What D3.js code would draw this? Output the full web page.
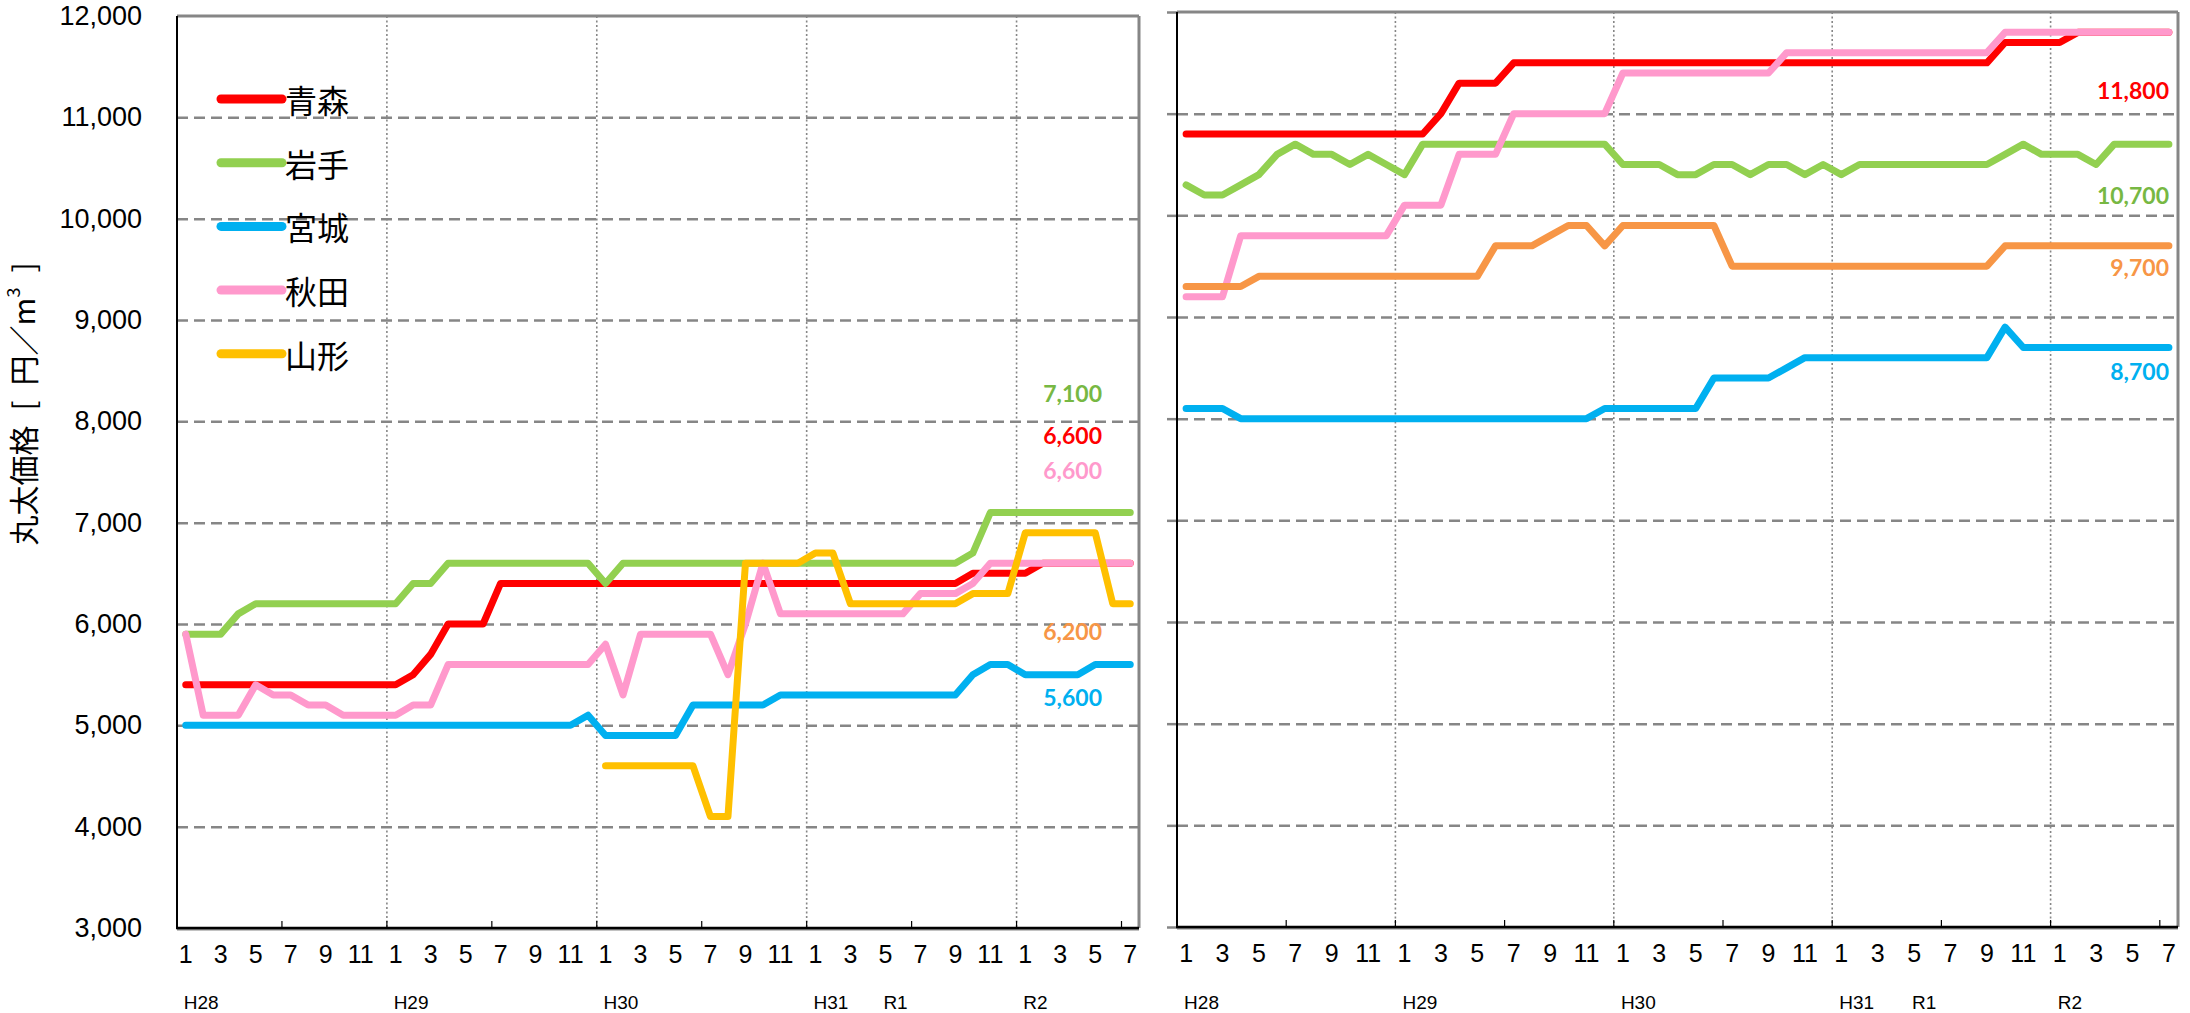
<!DOCTYPE html>
<html>
<head>
<meta charset="utf-8">
<script src="https://cdn.jsdelivr.net/npm/d3@7"></script>
<style>
  body { margin: 0; background: #fff; }
  svg { display: block; font-family: "Liberation Sans", Arial, sans-serif; }
</style>
</head>
<body>
<svg id="chart" width="2190" height="1013"></svg>
<script>
// Monthly log prices, Tohoku prefectures. Left and right panels share the same month axis.

const periods = [
  'H28.1','H28.2','H28.3','H28.4','H28.5','H28.6','H28.7','H28.8','H28.9','H28.10','H28.11','H28.12',
  'H29.1','H29.2','H29.3','H29.4','H29.5','H29.6','H29.7','H29.8','H29.9','H29.10','H29.11','H29.12',
  'H30.1','H30.2','H30.3','H30.4','H30.5','H30.6','H30.7','H30.8','H30.9','H30.10','H30.11','H30.12',
  'H31.1','H31.2','H31.3','H31.4','R1.5','R1.6','R1.7','R1.8','R1.9','R1.10','R1.11','R1.12',
  'R2.1','R2.2','R2.3','R2.4','R2.5','R2.6','R2.7'
];

const eraLabels = [
  ['H28', 'H28.1'], ['H29', 'H29.1'], ['H30', 'H30.1'],
  ['H31', 'H31.1'], ['R1', 'R1.5'], ['R2', 'R2.1']
];

const seriesNames = ['青森', '岩手', '宮城', '秋田', '山形'];
const yTicks = [3000, 4000, 5000, 6000, 7000, 8000, 9000, 10000, 11000, 12000];

// left panel
const leftAomori = [
  5400,5400,5400,5400,5400,5400,5400,5400,5400,5400,5400,5400,
  5400,5500,5700,6000,6000,6000,6400,6400,6400,6400,6400,6400,
  6400,6400,6400,6400,6400,6400,6400,6400,6400,6400,6400,6400,
  6400,6400,6400,6400,6400,6400,6400,6400,6400,6500,6500,6500,
  6500,6600,6600,6600,6600,6600,6600
];
const leftIwate = [
  5900,5900,5900,6100,6200,6200,6200,6200,6200,6200,6200,6200,
  6200,6400,6400,6600,6600,6600,6600,6600,6600,6600,6600,6600,
  6400,6600,6600,6600,6600,6600,6600,6600,6600,6600,6600,6600,
  6600,6600,6600,6600,6600,6600,6600,6600,6600,6700,7100,7100,
  7100,7100,7100,7100,7100,7100,7100
];
const leftMiyagi = [
  5000,5000,5000,5000,5000,5000,5000,5000,5000,5000,5000,5000,
  5000,5000,5000,5000,5000,5000,5000,5000,5000,5000,5000,5100,
  4900,4900,4900,4900,4900,5200,5200,5200,5200,5200,5300,5300,
  5300,5300,5300,5300,5300,5300,5300,5300,5300,5500,5600,5600,
  5500,5500,5500,5500,5600,5600,5600
];
const leftAkita = [
  5900,5100,5100,5100,5400,5300,5300,5200,5200,5100,5100,5100,
  5100,5200,5200,5600,5600,5600,5600,5600,5600,5600,5600,5600,
  5800,5300,5900,5900,5900,5900,5900,5500,6000,6600,6100,6100,
  6100,6100,6100,6100,6100,6100,6300,6300,6300,6400,6600,6600,
  6600,6600,6600,6600,6600,6600,6600
];
const leftYamagata = [
  null,null,null,null,null,null,null,null,null,null,null,null,
  null,null,null,null,null,null,null,null,null,null,null,null,
  4600,4600,4600,4600,4600,4600,4100,4100,6600,6600,6600,6600,
  6700,6700,6200,6200,6200,6200,6200,6200,6200,6300,6300,6300,
  6900,6900,6900,6900,6900,6200,6200
];

// right panel
const rightAomori = [
  10800,10800,10800,10800,10800,10800,10800,10800,10800,10800,10800,10800,
  10800,10800,11000,11300,11300,11300,11500,11500,11500,11500,11500,11500,
  11500,11500,11500,11500,11500,11500,11500,11500,11500,11500,11500,11500,
  11500,11500,11500,11500,11500,11500,11500,11500,11500,11700,11700,11700,
  11700,11800,11800,11800,11800,11800,11800
];
const rightIwate = [
  10300,10200,10200,10300,10400,10600,10700,10600,10600,10500,10600,10500,
  10400,10700,10700,10700,10700,10700,10700,10700,10700,10700,10700,10700,
  10500,10500,10500,10400,10400,10500,10500,10400,10500,10500,10400,10500,
  10400,10500,10500,10500,10500,10500,10500,10500,10500,10600,10700,10600,
  10600,10600,10500,10700,10700,10700,10700
];
const rightMiyagi = [
  8100,8100,8100,8000,8000,8000,8000,8000,8000,8000,8000,8000,
  8000,8000,8000,8000,8000,8000,8000,8000,8000,8000,8000,8100,
  8100,8100,8100,8100,8100,8400,8400,8400,8400,8500,8600,8600,
  8600,8600,8600,8600,8600,8600,8600,8600,8600,8900,8700,8700,
  8700,8700,8700,8700,8700,8700,8700
];
const rightAkita = [
  9200,9200,9200,9800,9800,9800,9800,9800,9800,9800,9800,9800,
  10100,10100,10100,10600,10600,10600,11000,11000,11000,11000,11000,11000,
  11400,11400,11400,11400,11400,11400,11400,11400,11400,11600,11600,11600,
  11600,11600,11600,11600,11600,11600,11600,11600,11600,11800,11800,11800,
  11800,11800,11800,11800,11800,11800,11800
];
const rightYamagata = [
  9300,9300,9300,9300,9400,9400,9400,9400,9400,9400,9400,9400,
  9400,9400,9400,9400,9400,9700,9700,9700,9800,9900,9900,9700,
  9900,9900,9900,9900,9900,9900,9500,9500,9500,9500,9500,9500,
  9500,9500,9500,9500,9500,9500,9500,9500,9500,9700,9700,9700,
  9700,9700,9700,9700,9700,9700,9700
];

const lineColors = ['#FF0000', '#92D050', '#00B0F0', '#FF99CC', '#FFC000'];
const rightLineColors = ['#FF0000', '#92D050', '#00B0F0', '#FF99CC', '#F79646'];
const labelColors = ['#FF0000', '#77B843', '#00B0F0', '#FF99CC', '#F79646'];

const svg = d3.select('#chart');
const gridColor = '#868686';
const fmt = d3.format(',');

const panels = [
  {
    x0: 177, x1: 1139, y0: 16, y1: 928,
    series: [leftAomori, leftIwate, leftMiyagi, leftAkita, leftYamagata],
    colors: lineColors,
    yLabels: true,
    labelRight: 1102,
    // value-axis position of each end label (null = no label)
    labelAt: [7865, 8280, 5280, 7520, 5930]
  },
  {
    x0: 1177, x1: 2178, y0: 12, y1: 927,
    series: [rightAomori, rightIwate, rightMiyagi, rightAkita, rightYamagata],
    colors: rightLineColors,
    yLabels: false,
    labelRight: 2169,
    labelAt: [11230, 10200, 8470, null, 9490]
  }
];

function drawPanel(p) {
  const x = d3.scaleBand().domain(periods).range([p.x0, p.x1]);
  const y = d3.scaleLinear().domain([3000, 12000]).range([p.y1, p.y0]);
  const g = svg.append('g');
  const w = p.x1 - p.x0;

  // horizontal dashed grid
  g.append('g').attr('transform', `translate(${p.x0},0)`)
    .call(d3.axisLeft(y).tickValues(yTicks.slice(1, -1)).tickSize(-w).tickFormat(''))
    .call(a => a.select('.domain').remove())
    .call(a => a.selectAll('line').attr('stroke', gridColor).attr('stroke-width', 2.5).attr('stroke-dasharray', '11 6'));

  // dotted year separators
  const yearStarts = periods.filter((d, i) => i > 0 && d.endsWith('.1'));
  g.append('g').selectAll('line').data(yearStarts).join('line')
    .attr('x1', d => x(d)).attr('x2', d => x(d))
    .attr('y1', p.y0).attr('y2', p.y1)
    .attr('stroke', gridColor).attr('stroke-width', 1.6).attr('stroke-dasharray', '2 2.5');

  // outside ticks on the right panel value axis
  if (!p.yLabels) {
    g.append('g').attr('transform', `translate(${p.x0},0)`)
      .call(d3.axisLeft(y).tickValues(yTicks).tickSize(10).tickFormat(''))
      .call(a => a.select('.domain').remove())
      .call(a => a.selectAll('line').attr('stroke', gridColor).attr('stroke-width', 2.5));
  }

  // frame: gray top/right, black left/bottom
  g.append('line').attr('x1', p.x0).attr('x2', p.x1).attr('y1', p.y0).attr('y2', p.y0)
    .attr('stroke', gridColor).attr('stroke-width', 3);
  g.append('line').attr('x1', p.x1).attr('x2', p.x1).attr('y1', p.y0).attr('y2', p.y1)
    .attr('stroke', gridColor).attr('stroke-width', 3);
  g.append('line').attr('x1', p.x0).attr('x2', p.x0).attr('y1', p.y0).attr('y2', p.y1)
    .attr('stroke', '#000').attr('stroke-width', 2);

  // category ticks every six months, pointing up
  const tickCats = periods.filter((d, i) => i > 0 && i % 6 === 0);
  g.append('g').selectAll('line').data(tickCats).join('line')
    .attr('x1', d => x(d)).attr('x2', d => x(d))
    .attr('y1', p.y1).attr('y2', p.y1 - 7)
    .attr('stroke', '#000').attr('stroke-width', 1.2);
  g.append('line').attr('x1', p.x0).attr('x2', p.x1).attr('y1', p.y1 + 1.5).attr('y2', p.y1 + 1.5)
    .attr('stroke', gridColor).attr('stroke-width', 2);
  g.append('line').attr('x1', p.x0 - 1).attr('x2', p.x1).attr('y1', p.y1).attr('y2', p.y1)
    .attr('stroke', '#000').attr('stroke-width', 2.5);

  // month labels (odd months)
  g.append('g').attr('transform', `translate(0,${p.y1})`)
    .call(d3.axisBottom(x)
      .tickValues(periods.filter(d => +d.split('.')[1] % 2 === 1))
      .tickFormat(d => d.split('.')[1]).tickSize(0).tickPadding(17))
    .call(a => a.select('.domain').remove())
    .call(a => a.selectAll('text').attr('font-size', 25).attr('fill', '#000')
      .attr('font-family', '"Liberation Sans", Arial, sans-serif'));

  g.append('g').selectAll('text').data(eraLabels).join('text')
    .attr('x', d => x(d[1]) + x.bandwidth() / 2 - 2)
    .attr('y', 1009)
    .attr('font-size', 19)
    .text(d => d[0]);

  if (p.yLabels) {
    g.append('g').attr('transform', `translate(${p.x0},0)`)
      .call(d3.axisLeft(y).tickValues(yTicks).tickFormat(fmt).tickSize(0).tickPadding(35))
      .call(a => a.select('.domain').remove())
      .call(a => a.selectAll('text').attr('font-size', 27).attr('fill', '#000')
        .attr('font-family', '"Liberation Sans", Arial, sans-serif'));
  }

  // series lines
  const line = d3.line()
    .defined(v => v != null)
    .x((v, i) => x(periods[i]) + x.bandwidth() / 2)
    .y(v => y(v));
  g.append('g').selectAll('path').data(p.series).join('path')
    .attr('d', line)
    .attr('fill', 'none')
    .attr('stroke', (d, i) => p.colors[i])
    .attr('stroke-width', 7)
    .attr('stroke-linejoin', 'round')
    .attr('stroke-linecap', 'round');

  // end-value labels
  const ends = p.series.map((s, i) => ({ v: s[s.length - 1], at: p.labelAt[i], color: labelColors[i] }))
    .filter(d => d.at != null);
  g.append('g').selectAll('text').data(ends).join('text')
    .attr('x', p.labelRight)
    .attr('y', d => y(d.at))
    .attr('text-anchor', 'end')
    .attr('dominant-baseline', 'central')
    .attr('font-family', 'Lato, "Open Sans", sans-serif')
    .attr('font-weight', 'bold')
    .attr('font-size', 23)
    .attr('fill', d => d.color)
    .text(d => fmt(d.v));
}

panels.forEach(drawPanel);

// legend
const legend = svg.append('g').attr('transform', 'translate(221,99)');
const item = legend.selectAll('g').data(seriesNames).join('g')
  .attr('transform', (d, i) => `translate(0,${i * 63.7})`);
item.append('line').attr('x1', 0).attr('x2', 61)
  .attr('stroke', (d, i) => lineColors[i]).attr('stroke-width', 9).attr('stroke-linecap', 'round');
item.append('text').attr('x', 64).attr('dominant-baseline', 'central')
  .attr('font-family', '"Noto Sans CJK JP", sans-serif').attr('font-size', 32)
  .text(d => d);

// value axis title
const title = svg.append('text')
  .attr('transform', 'translate(22,404) rotate(-90)')
  .attr('text-anchor', 'middle')
  .attr('dominant-baseline', 'central')
  .attr('font-family', '"Noto Sans CJK JP", sans-serif')
  .attr('font-size', 30);
title.append('tspan').text('丸太価格\u2002[\u2002円／m');
title.append('tspan').attr('font-size', 18).attr('dy', -10).text('3');
title.append('tspan').attr('dy', 10).text('\u2002]');
</script>
</body>
</html>
